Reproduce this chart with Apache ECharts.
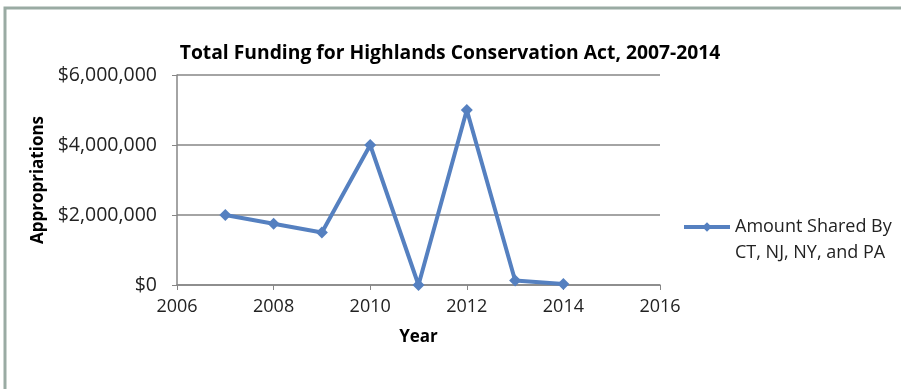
<!DOCTYPE html>
<html><head><meta charset="utf-8">
<script src="https://cdn.jsdelivr.net/npm/echarts@6/dist/echarts.min.js"></script>
<style>html,body{margin:0;padding:0;background:#fff}#c{width:901px;height:389px}</style>
</head><body><div id="c"></div>
<script>
const years = [2007, 2008, 2009, 2010, 2011, 2012, 2013, 2014];
const amounts = [2000000, 1750000, 1500000, 4000000, 0, 5000000, 130000, 30000];
const seriesName = 'Amount Shared By\nCT, NJ, NY, and PA';
const xTicks = [2006, 2016, 2];
const yTicks = [0, 6000000, 2000000];

const FONT = '"Open Sans", "Noto Sans", sans-serif';
const chart = echarts.init(document.getElementById('c'), null, {renderer: 'canvas'});
chart.setOption({
  animation: false,
  backgroundColor: '#fff',
  graphic: [{
    type: 'rect', shape: {x: 5, y: 8, width: 1000, height: 500},
    style: {fill: 'none', stroke: '#9aaba3', lineWidth: 3}
  }],
  title: {
    text: 'Total Funding for Highlands Conservation Act, 2007-2014',
    left: 445, textAlign: 'center', top: 39,
    textStyle: {fontFamily: FONT, fontWeight: 'bold', fontSize: 19.3, color: '#000'}
  },
  grid: {left: 177, right: 241, top: 75, bottom: 104},
  legend: {
    left: 682, top: 188, orient: 'vertical', padding: 0,
    itemWidth: 46, itemHeight: 12, itemGap: 0,
    lineStyle: {width: 4},
    formatter: name => ' \n' + name,
    textStyle: {fontFamily: FONT, fontSize: 18, color: '#222', lineHeight: 26}
  },
  xAxis: {
    type: 'value', min: xTicks[0], max: xTicks[1], interval: xTicks[2],
    name: 'Year', nameLocation: 'middle', nameGap: 44,
    nameTextStyle: {fontFamily: FONT, fontWeight: 'bold', fontSize: 17, color: '#000'},
    axisLine: {lineStyle: {color: '#868686', width: 1.5}},
    axisTick: {show: true, length: 5, lineStyle: {color: '#868686'}},
    axisLabel: {fontFamily: FONT, fontSize: 18, color: '#222', margin: 13,
      formatter: v => String(v)},
    splitLine: {show: false}
  },
  yAxis: {
    type: 'value', min: yTicks[0], max: yTicks[1], interval: yTicks[2],
    name: 'Appropriations', nameLocation: 'middle', nameGap: 128, nameRotate: 90,
    nameTextStyle: {fontFamily: FONT, fontWeight: 'bold', fontSize: 17, color: '#000'},
    axisLine: {show: true, lineStyle: {color: '#868686', width: 1.5}},
    axisTick: {show: true, length: 5, lineStyle: {color: '#868686'}},
    axisLabel: {fontFamily: FONT, fontSize: 19.5, color: '#222', margin: 20,
      formatter: v => '$' + v.toLocaleString('en-US')},
    splitLine: {show: true, lineStyle: {color: '#868686', width: 1.5}}
  },
  series: [{
    name: seriesName, type: 'line',
    data: years.map((y, i) => [y, amounts[i]]),
    symbol: 'diamond', symbolSize: 12,
    lineStyle: {color: '#5580c0', width: 4},
    itemStyle: {color: '#5580c0'}
  }]
});
</script></body></html>
